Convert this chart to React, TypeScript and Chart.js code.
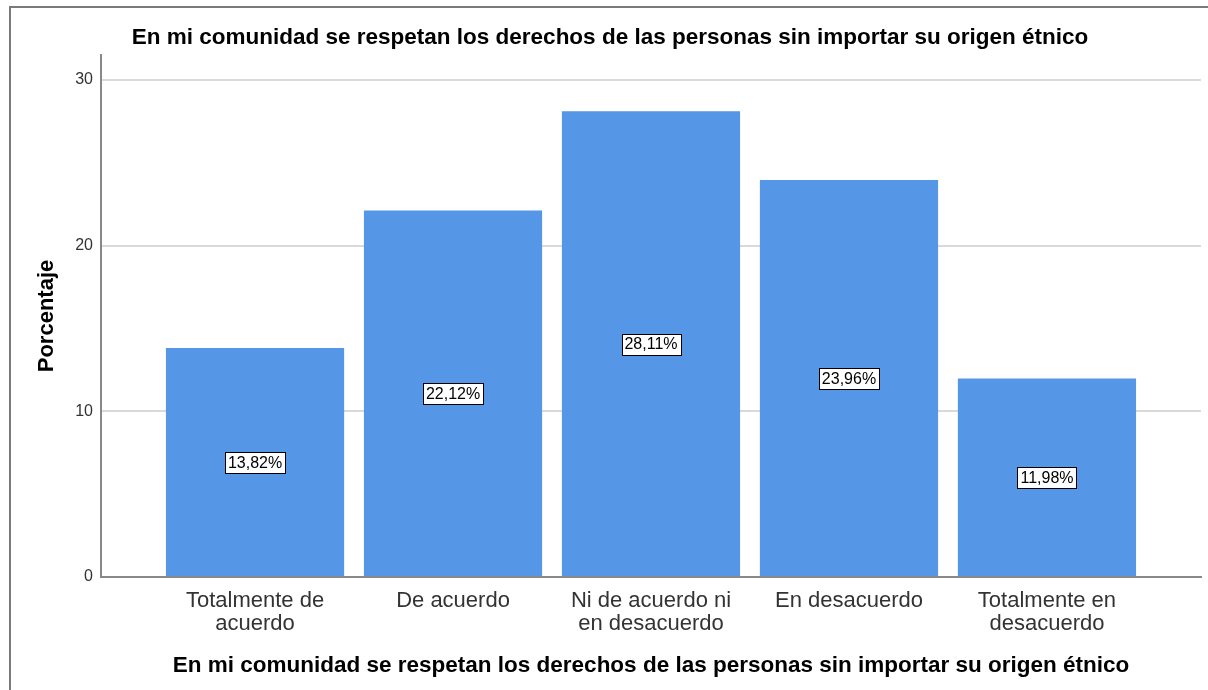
import React, { useEffect, useRef } from "react";
import { Chart, registerables } from "chart.js";

Chart.register(...registerables);

const TITLE = "En mi comunidad se respetan los derechos de las personas sin importar su origen étnico";
const categories: string[][] = [
  ["Totalmente de", "acuerdo"],
  ["De acuerdo"],
  ["Ni de acuerdo ni", "en desacuerdo"],
  ["En desacuerdo"],
  ["Totalmente en", "desacuerdo"],
];
const percentages: number[] = [13.82, 22.12, 28.11, 23.96, 11.98];
const yTicks: number[] = [0, 10, 20, 30];
const Y_MAX = 31.5;

const FONT = "'Liberation Sans', Arial, sans-serif";
const CANVAS_LEFT = 19;
const CANVAS_W = 1208 - CANVAS_LEFT;

const labelPlugin = {
  id: "barLabels",
  afterDatasetsDraw(chart: any) {
    const ctx = chart.ctx;
    const meta = chart.getDatasetMeta(0);
    const yScale = chart.scales.y;
    ctx.save();
    ctx.font = `16px ${FONT}`;
    ctx.textAlign = "center";
    ctx.textBaseline = "middle";
    meta.data.forEach((bar: any, i: number) => {
      const v = percentages[i];
      const text = v.toFixed(2).replace(".", ",") + "%";
      const cx = bar.x;
      const cy = yScale.getPixelForValue(v / 2);
      const w = Math.round(ctx.measureText(text).width + 6);
      const h = 21;
      const x0 = Math.round(cx - w / 2) + 0.5;
      const y0 = Math.round(cy - h / 2) + 0.5;
      ctx.fillStyle = "#ffffff";
      ctx.fillRect(x0, y0, w, h);
      ctx.strokeStyle = "#000000";
      ctx.lineWidth = 1;
      ctx.strokeRect(x0, y0, w, h);
      ctx.fillStyle = "#000000";
      ctx.fillText(text, cx, cy + 1);
    });
    ctx.restore();
  },
};

export default function App() {
  const ref = useRef<HTMLCanvasElement | null>(null);
  useEffect(() => {
    if (!ref.current) return;
    const chart = new Chart(ref.current, {
      type: "bar",
      data: {
        datasets: [
          {
            data: percentages.map((v, i) => ({ x: i, y: v })),
            backgroundColor: "#5596e6",
            borderWidth: 0,
            barPercentage: 0.9,
            categoryPercentage: 1,
          },
        ],
      },
      options: {
        animation: false,
        responsive: false,
        layout: { padding: { left: 0, right: 7, top: 0, bottom: 0 } },
        plugins: {
          legend: { display: false },
          tooltip: { enabled: false },
          title: {
            display: true,
            text: TITLE,
            color: "#000000",
            font: { family: FONT, size: 22.5, weight: "bold", lineHeight: 1.2 },
            padding: { top: 24.5, bottom: 3.5 },
          },
        },
        scales: {
          x: {
            type: "linear",
            offset: false,
            min: -0.778,
            max: 4.778,
            afterBuildTicks: (scale: any) => {
              scale.ticks = categories.map((_, i) => ({ value: i }));
            },
            afterFit: (scale: any) => {
              scale.height = 113;
            },
            ticks: {
              callback: (v: any) => categories[Math.round(Number(v))] ?? "",
              color: "#333333",
              font: { family: FONT, size: 22, lineHeight: 1.05 },
              padding: 12.5,
              maxRotation: 0,
              autoSkip: false,
            },
            grid: { display: false, drawTicks: false },
            border: { display: true, color: "#888888", width: 2 },
            title: {
              display: true,
              text: TITLE,
              color: "#000000",
              font: { family: FONT, size: 22.5, weight: "bold", lineHeight: 1.2 },
              padding: { top: 0, bottom: 10.5 },
            },
          },
          y: {
            min: 0,
            max: Y_MAX,
            afterBuildTicks: (scale: any) => {
              scale.ticks = yTicks.map((v) => ({ value: v }));
            },
            afterFit: (scale: any) => {
              scale.width = 101 - CANVAS_LEFT;
            },
            ticks: {
              color: "#333333",
              font: { family: FONT, size: 16 },
              padding: 8,
            },
            grid: {
              color: (c: any) => (c.tick && c.tick.value === 0 ? "rgba(0,0,0,0)" : "#d9d9d9"),
              lineWidth: 2,
              drawTicks: false,
            },
            border: { display: true, color: "#888888", width: 2 },
            title: {
              display: true,
              text: "Porcentaje",
              color: "#000000",
              font: { family: FONT, size: 22, weight: "bold", lineHeight: 1.2 },
              padding: { top: 34 - CANVAS_LEFT, bottom: 0 },
            },
          },
        },
      },
      plugins: [labelPlugin],
    });
    return () => chart.destroy();
  }, []);

  return (
    <div style={{ position: "absolute", left: 0, top: 0, width: 1208, height: 690, background: "#ffffff", overflow: "hidden" }}>
      <div
        style={{
          position: "absolute",
          left: 9,
          top: 6,
          width: 1220,
          height: 700,
          borderLeft: "2px solid #7a7a7a",
          borderTop: "2px solid #7a7a7a",
        }}
      />
      <canvas
        ref={ref}
        width={CANVAS_W}
        height={690}
        style={{ position: "absolute", left: CANVAS_LEFT, top: 0, width: CANVAS_W, height: 690 }}
      />
    </div>
  );
}
